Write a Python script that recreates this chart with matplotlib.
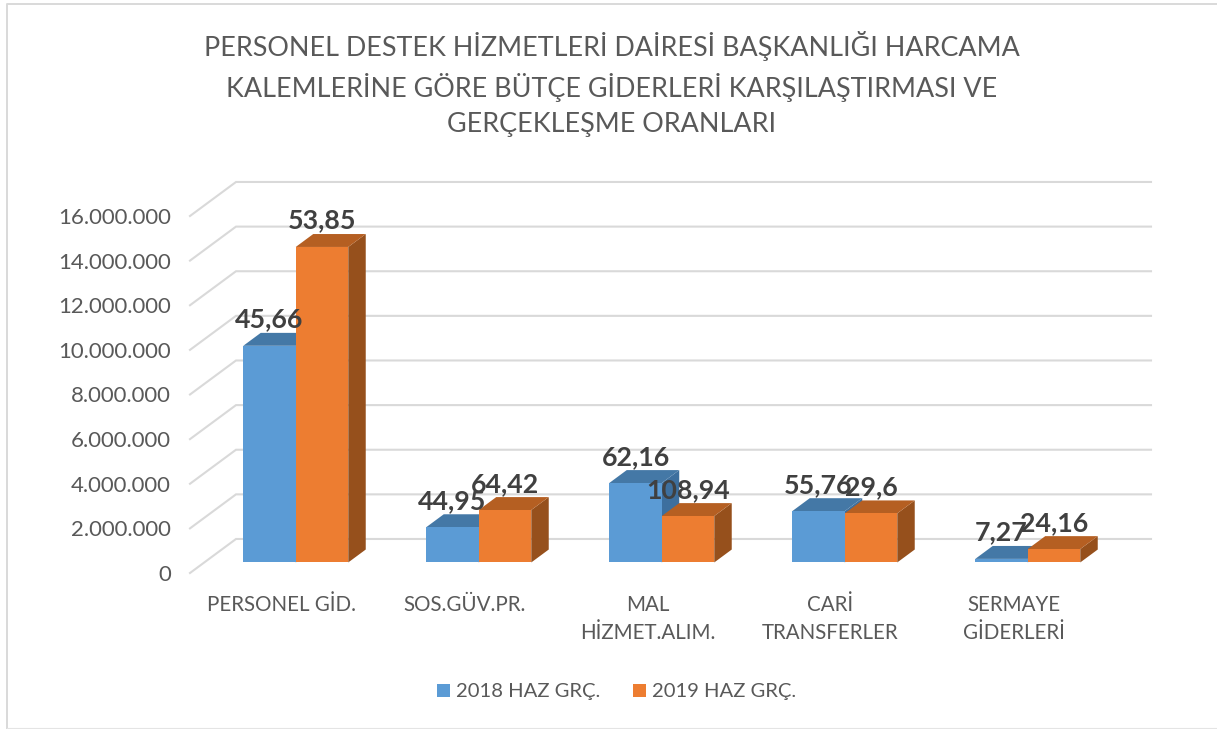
import matplotlib
matplotlib.use("Agg")
import matplotlib.pyplot as plt
from matplotlib.patches import Polygon

categories = ["PERSONEL GİD.", "SOS.GÜV.PR.", "MAL\nHİZMET.ALIM.", "CARİ\nTRANSFERLER", "SERMAYE\nGİDERLERİ"]
series_names = ["2018 HAZ GRÇ.", "2019 HAZ GRÇ."]
values_2018 = [9710000, 1580000, 3560000, 2300000, 160000]
values_2019 = [14140000, 2350000, 2080000, 2200000, 600000]
labels_2018 = ["45,66", "44,95", "62,16", "55,76", "7,27"]
labels_2019 = ["53,85", "64,42", "108,94", "29,6", "24,16"]
yticks = list(range(0, 16000001, 2000000))
ytick_labels = ["0", "2.000.000", "4.000.000", "6.000.000", "8.000.000", "10.000.000", "12.000.000", "14.000.000", "16.000.000"]
title = "PERSONEL DESTEK HİZMETLERİ DAİRESİ BAŞKANLIĞI HARCAMA\nKALEMLERİNE GÖRE BÜTÇE GİDERLERİ KARŞILAŞTIRMASI VE\nGERÇEKLEŞME ORANLARI"

W, H = 1217, 729
plt.rcParams['font.family'] = ['Lato', 'DejaVu Sans']
fig = plt.figure(figsize=(W / 100, H / 100), dpi=100)

# plot plane in pixels: x 190..1105, y 573 (0) .. 216 (16M)
ax = fig.add_axes([190 / W, 1 - 573 / H, 915 / W, 357 / H])
ax.set_xlim(0, 5)
ax.set_ylim(0, 16000000)
ax.patch.set_alpha(0)
for s in ax.spines.values():
    s.set_visible(False)

DX = 46 / 183           # depth of the floor in category units
DY = 34 / 44.6 * 2e6    # depth of the floor in value units
BAR_W = 52.5 / 183
D0, D1 = 0.31, 0.69     # bar front and back depth fractions
GRID = "#d9d9d9"

for v in yticks:
    ax.plot([0, DX, 5 + DX], [v, v + DY, v + DY], color=GRID, lw=1.5, clip_on=False, zorder=1,
            solid_joinstyle="miter")


def bar3d(x0, v, front, top, side):
    x1 = x0 + BAR_W
    fx, fy = D0 * DX, D0 * DY
    bx, by = D1 * DX, D1 * DY
    ax.add_patch(Polygon([(x1 + fx, fy), (x1 + bx, by), (x1 + bx, by + v), (x1 + fx, fy + v)],
                         fc=side, ec="none", clip_on=False, zorder=3))
    ax.add_patch(Polygon([(x0 + fx, fy + v), (x1 + fx, fy + v), (x1 + bx, by + v), (x0 + bx, by + v)],
                         fc=top, ec="none", clip_on=False, zorder=3))
    ax.bar(x0 + fx, v, width=BAR_W, bottom=fy, align="edge", color=front, clip_on=False, zorder=4)


for i, (a, b) in enumerate(zip(values_2018, values_2019)):
    bar3d(i + 0.5 - BAR_W, a, "#5b9bd5", "#4478a6", "#3d6f9e")
    bar3d(i + 0.5, b, "#ed7d31", "#b55f22", "#96501c")

for i, (a, b, la, lb) in enumerate(zip(values_2018, values_2019, labels_2018, labels_2019)):
    for x0, v, t in ((i + 0.5 - BAR_W, a, la), (i + 0.5, b, lb)):
        ax.annotate(t, (x0 + BAR_W / 2 + D0 * DX, v + D1 * DY), xytext=(0, 1), textcoords="offset points",
                    ha="center", va="bottom", fontsize=19.3, fontweight="bold", color="#404040",
                    annotation_clip=False, zorder=6)

ax.set_yticks(yticks)
ax.set_yticklabels(ytick_labels, fontsize=15.9, color="#595959")
ax.tick_params(axis="y", length=0, pad=13.7)
ax.set_xticks([i + 0.5 for i in range(5)])
ax.set_xticklabels(categories, fontsize=14.8, color="#595959", linespacing=1.5, va="top")
ax.tick_params(axis="x", length=0, pad=16)

fig.text(612 / W, 1 - 84 / H, title, ha="center", va="center", fontsize=19.4, color="#595959", linespacing=1.5)

handles = [plt.Rectangle((0, 0), 1, 1, fc=c) for c in ("#5b9bd5", "#ed7d31")]
fig.legend(handles, series_names, loc="center", bbox_to_anchor=(616.5 / W, 1 - 692 / H), ncol=2, frameon=False,
           fontsize=14.6, labelcolor="#595959", handlelength=0.65, handleheight=0.65, columnspacing=1.6, handletextpad=0.3)

# chart frame
fig.add_artist(plt.Line2D([1, 6.5 / W, 6.5 / W], [1 - 3.5 / H, 1 - 3.5 / H, 0], color="#d9d9d9", lw=1.4))
fig.add_artist(plt.Line2D([6.5 / W, 1], [1 / H, 1 / H], color="#e4e4e4", lw=0.8))

fig.savefig("out.png", dpi=100)
